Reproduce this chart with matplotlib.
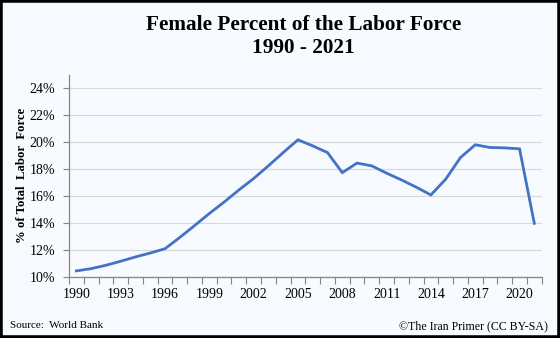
import matplotlib.pyplot as plt
from matplotlib.patches import Rectangle

# female share of the labor force, percent
years = list(range(1990, 2022))
female_pct = [10.43, 10.60, 10.85, 11.15, 11.47, 11.76, 12.08, 12.92,
              13.80, 14.70, 15.55, 16.45, 17.30, 18.25, 19.23, 20.18,
              19.73, 19.23, 17.74, 18.45, 18.24, 17.70, 17.20, 16.66,
              16.08, 17.25, 18.86, 19.81, 19.61, 19.58, 19.51, 13.97]
y_ticks = [10, 12, 14, 16, 18, 20, 22, 24]

bg = '#f7fbff'
serif = 'Liberation Serif'

fig = plt.figure(figsize=(5.6, 3.38), dpi=100, facecolor=bg)
ax = fig.add_axes([69 / 560, 1 - 276.7 / 338, (541.7 - 69) / 560, (276.7 - 75) / 338])
ax.set_facecolor(bg)

x = list(range(len(years)))
ax.plot(x, female_pct, color='#4472c4', lw=2.0, solid_joinstyle='miter', zorder=3)

# category axis: ticks sit between the years, labels every third year
ax.set_xlim(-0.5, len(years) - 0.5)
ax.set_xticks([i - 0.5 for i in range(len(years) + 1)], minor=True)
ax.set_xticks(x[::3])
ax.set_xticklabels([str(y) for y in years[::3]], fontfamily=serif, fontsize=10)
ax.tick_params(axis='x', which='major', length=0, pad=8)
ax.tick_params(axis='x', which='minor', length=5, width=0.8, color='#868686', direction='out')

ax.set_ylim(10, 25)
ax.set_yticks(y_ticks)
ax.set_yticklabels([f'{v}%' for v in y_ticks], fontfamily=serif, fontsize=10)
ax.tick_params(axis='y', length=4, width=0.8, color='#868686', direction='out', pad=6)
ax.grid(axis='y', color='#d9d9d9', lw=0.9, zorder=0)
ax.set_axisbelow(True)

for side in ['top', 'right']:
    ax.spines[side].set_visible(False)
for side in ['left', 'bottom']:
    ax.spines[side].set_color('#868686')
    ax.spines[side].set_linewidth(0.9)

fig.text(21.7 / 560, 1 - 175.5 / 338, '% of Total  Labor  Force', rotation=90,
         ha='center', va='center', fontfamily=serif, fontsize=9.2, fontweight='bold')

fig.text(303.5 / 560, 1 - 25 / 338, 'Female Percent of the Labor Force',
         ha='center', va='center', fontfamily=serif, fontsize=15.3, fontweight='bold')
fig.text(303.5 / 560, 1 - 48 / 338, '1990 - 2021',
         ha='center', va='center', fontfamily=serif, fontsize=15.3, fontweight='bold')

fig.text(10.5 / 560, 1 - 326 / 338, 'Source:  World Bank',
         ha='left', va='center', fontfamily=serif, fontsize=8)
fig.text(548 / 560, 1 - 326 / 338, '\u00a9The Iran Primer (CC BY-SA)',
         ha='right', va='center', fontfamily=serif, fontsize=8.6)

# black frame around the whole figure
fig.patches.append(Rectangle((0, 0), 1, 1, transform=fig.transFigure, fill=False,
                             edgecolor='black', lw=4, zorder=10))

fig.savefig('out.png', dpi=100, facecolor=bg)
